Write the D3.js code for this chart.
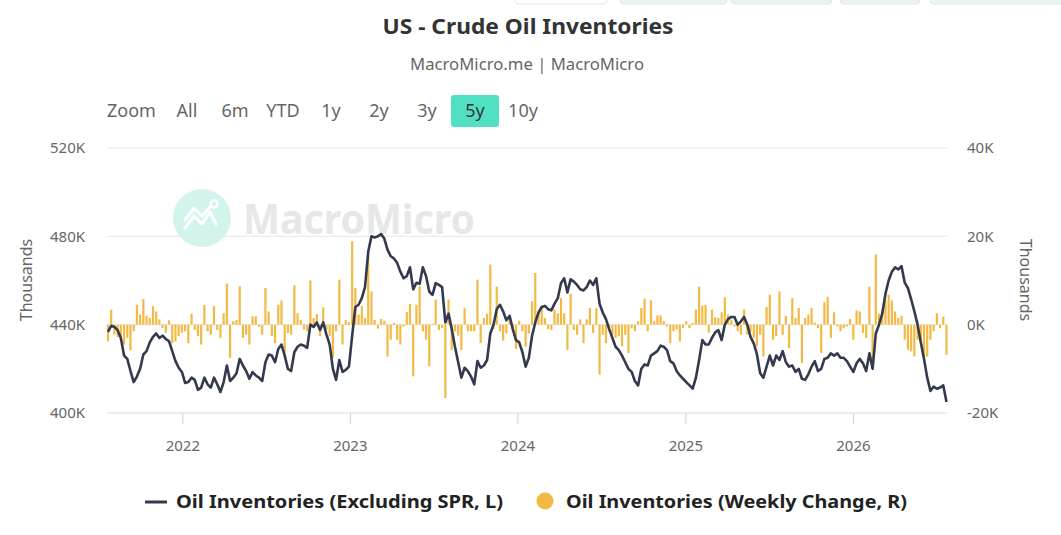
<!DOCTYPE html>
<html>

<head>
    <meta charset="utf-8">
    <title>US - Crude Oil Inventories</title>
    <style>
        body { margin: 0; background: #fff; }
        svg { display: block; font-family: "Noto Sans", "Open Sans", sans-serif; }
    </style>
</head>

<body>

<main></main>

<script src="https://cdn.jsdelivr.net/npm/d3@7/dist/d3.min.js"></script>
<script>
    // weekly series, first week below
    var firstWeek = "2021-07-23";

    // Oil Inventories (Excluding SPR), thousand barrels / 1000 -> K
    var inventories = [
        436.7, 439.5, 439, 437.5, 434, 426, 424.5, 419, 414, 416.5,
        420, 426.5, 428, 432, 434.5, 436, 434, 435, 433.5, 432.5,
        428, 423.5, 420.5, 418.6, 413.6, 414, 416, 415, 410.5, 411.5,
        416, 413, 411.5, 416, 413, 409.5, 414, 421.5, 414.5, 416,
        418, 424.5, 421.5, 419, 415.5, 418.5, 417, 416, 414.5, 423,
        426.5, 426, 423, 429, 431, 426, 420, 419, 427.5, 430,
        431, 430.5, 429.5, 440, 439, 441, 437.6, 441, 435.5, 431,
        420, 415, 424, 418.6, 419.5, 421, 435, 448, 449, 452,
        457, 473, 480, 479.5, 480, 481, 479, 474, 471, 470,
        468, 464, 461, 462, 466, 456, 459, 458.5, 466, 462,
        455, 453.5, 458.8, 458, 457, 441, 445, 438, 430, 423,
        416, 420.5, 419, 416.5, 413, 423.5, 420.5, 421.5, 424, 436,
        440, 447, 449, 446, 442, 444, 438, 433, 432, 427.5,
        421, 425, 435, 441, 445.5, 448, 448.5, 447, 446.5, 449.5,
        452, 458.8, 461, 454.6, 460.5, 459.5, 458, 456, 455.5, 457,
        460, 458, 461, 449.5, 445.5, 442.5, 438, 434, 430, 428.5,
        426, 423, 420, 418.6, 414.5, 412.5, 420, 422, 421.5, 426,
        427, 428, 430.5, 430, 428.5, 423.5, 422.5, 419, 417, 415.5,
        414, 412.5, 411, 416, 424, 433, 431, 431, 434, 436.5,
        437.5, 433, 440, 442.5, 443.5, 443.5, 440, 441.5, 443.5, 440,
        434.5, 431.5, 426.5, 418, 416, 421, 426, 421.5, 426, 424,
        428, 423, 421, 421.5, 418.6, 420, 415.5, 415, 417.5, 421,
        423.5, 419, 420, 424.5, 425, 427, 426, 427, 425, 425,
        423.5, 421, 418.6, 422.5, 424.5, 422.5, 419, 427, 420, 436,
        440, 445, 454, 460, 464, 466, 465, 466.5, 459, 456.5,
        451.5, 446, 440, 432, 424.5, 416, 410, 412, 411, 411.5,
        412.5, 405
    ];

    // Oil Inventories (Weekly Change), K
    var weeklyChange = [
        -3.8, 3.4, -2.2, -2.8, -3.5, -4.5, -3.0, -5.8, -1.5, 4.5,
        2.3, 5.8, 2.0, 1.5, 4.2, 3.0, 1.2, -0.8, -1.8, 1.0,
        -4.2, -3.8, -2.6, -1.8, -1.5, -4.2, 2.5, -1.2, -2.6, -4.5,
        4.5, -1.5, -2.3, 4.2, -1.2, -3.0, 2.6, 9.3, -7.5, 0.8,
        1.1, 8.7, -3.0, -2.3, -4.5, 1.9, 1.9, -0.5, -2.3, 8.3,
        3.0, -2.6, -4.2, 4.5, 5.5, -6.4, -1.9, -2.3, 8.9, 2.6,
        1.1, -1.1, -1.5, 10.0, 1.5, 2.4, -2.6, 3.9, -1.1, -2.6,
        -7.5, -1.5, 10.2, -4.5, 1.1, 0.6, 18.9, 8.3, 2.3, 4.2,
        1.5, 15.9, 7.5, 1.1, -0.9, 1.3, 0.9, -7.2, -3.4, 0.4,
        -3.4, -4.5, -0.4, 2.9, 4.7, -11.7, 4.5, 8.7, -1.5, -3.4,
        -9.4, 0.2, 5.7, -1.2, -0.8, -16.6, 5.7, -5.7, -1.5, -2.5,
        -5.7, 3.8, -1.5, -1.5, -1.5, 10.2, -4.2, 1.5, 2.5, 13.6,
        -1.0, 8.6, -1.5, -3.6, -2.0, 1.5, -1.0, -5.5, 0.9, -1.5,
        -5.0, -2.0, 5.3, 11.7, 2.6, 3.8, 1.5, -1.0, -1.2, 3.4,
        2.6, 6.0, 2.6, -5.7, 7.0, -1.2, -2.3, 1.2, -4.2, 1.2,
        3.8, -1.9, 3.8, -11.3, -2.3, -4.2, -1.5, -2.3, -3.0, -2.6,
        -4.9, -2.3, -6.4, -0.8, -1.5, 0.8, 3.8, 5.9, -1.5, 5.5,
        0.8, 2.1, 2.1, 0.8, -0.4, -4.2, -1.5, -1.1, -3.8, -0.8,
        0.8, -0.8, 0.4, 3.4, 8.6, 4.3, 4.5, -1.8, 3.4, 1.7,
        1.5, 2.8, 6.2, 2.3, 1.1, -0.4, -1.5, -2.3, 3.4, -2.3,
        -1.5, -3.0, -4.9, -2.3, -7.2, 4.0, 6.8, -3.4, -2.6, 7.5,
        -2.3, 2.0, -5.3, 6.0, 1.5, 3.8, -8.7, 1.5, 2.3, 3.8,
        0.5, -0.8, -6.4, 5.1, 6.3, -3.0, 2.8, -0.4, -1.5, -0.8,
        -0.4, 1.3, -3.4, 3.2, 3.0, -1.9, -3.0, 8.6, -8.3, 15.9,
        2.5, 3.5, 5.5, 6.8, 5.5, 3.0, 1.5, 2.0, -3.4, -5.7,
        -6.0, -7.2, -3.4, -3.4, -7.5, -7.2, -3.4, -1.5, 2.6, -0.8,
        1.8, -6.8
    ];

    var leftTicks = [400, 440, 480, 520];
    var rightTicks = [-20, 0, 20, 40];
    var yearTicks = [2022, 2023, 2024, 2025, 2026];
    var rangeButtons = ["All", "6m", "YTD", "1y", "2y", "3y", "5y", "10y"];
    var activeButton = "5y";
    var seriesNames = ["Oil Inventories (Excluding SPR, L)", "Oil Inventories (Weekly Change, R)"];

    var width = 1061,
        height = 535;
    var lineColor = "#343a4e",
        barColor = "#f2ba44";

    var svg = d3.select("main").append("svg")
        .attr("width", width).attr("height", height);

    var start = d3.timeParse("%Y-%m-%d")(firstWeek);
    var dates = inventories.map(function (d, i) { return d3.timeWeek.offset(start, i); });

    var plotLeft = 107, plotRight = 947, plotTop = 148, plotBottom = 413;

    var x = d3.scaleTime()
        .domain([dates[0], dates[dates.length - 1]])
        .range([108, 946.5]);
    var yL = d3.scaleLinear().domain([400, 520]).range([plotBottom, plotTop]);
    var yR = d3.scaleLinear().domain([-20, 40]).range([plotBottom, plotTop]);

    // faint tabs cut off at the top of the page
    var tabs = [[515, 92, "#fff"], [620, 107, "#e9f5f2"], [731, 101, "#e9f5f2"], [840, 80, "#e9f5f2"], [930, 140, "#e9f5f2"]];
    svg.selectAll(".tab").data(tabs).enter().append("rect")
        .attr("x", function (d) { return d[0]; }).attr("y", -10)
        .attr("width", function (d) { return d[1]; }).attr("height", 14)
        .attr("rx", 4)
        .attr("fill", function (d) { return d[2]; })
        .attr("stroke", "#e3e3e3");

    // title
    svg.append("text")
        .attr("x", 528).attr("y", 34)
        .attr("text-anchor", "middle")
        .attr("font-size", 21).attr("font-weight", "bold")
        .attr("fill", "#333")
        .attr("textLength", 291).attr("lengthAdjust", "spacingAndGlyphs")
        .text("US - Crude Oil Inventories");

    svg.append("text")
        .attr("x", 527).attr("y", 70)
        .attr("text-anchor", "middle")
        .attr("font-size", 16)
        .attr("fill", "#666")
        .attr("textLength", 234).attr("lengthAdjust", "spacingAndGlyphs")
        .text("MacroMicro.me | MacroMicro");

    // range selector
    svg.append("text")
        .attr("x", 107).attr("y", 117)
        .attr("font-size", 18).attr("fill", "#666")
        .text("Zoom");

    var btn = svg.selectAll(".btn").data(rangeButtons).enter().append("g")
        .attr("transform", function (d, i) { return "translate(" + (187 + i * 48) + ",0)"; });
    btn.filter(function (d) { return d === activeButton; }).append("rect")
        .attr("x", -24).attr("y", 95)
        .attr("width", 48).attr("height", 32)
        .attr("rx", 3)
        .attr("fill", "#51e1c2");
    btn.append("text")
        .attr("y", 117)
        .attr("text-anchor", "middle")
        .attr("font-size", 18)
        .attr("fill", function (d) { return d === activeButton ? "#333" : "#666"; })
        .text(function (d) { return d; });

    // watermark
    var wm = svg.append("g").attr("transform", "translate(202,218)");
    wm.append("circle").attr("r", 29).attr("fill", "#d2f4ec");
    wm.append("polyline")
        .attr("points", "-17,10 -8,-2 0,6 8,-6 14,6")
        .attr("fill", "none").attr("stroke", "#fff").attr("stroke-width", 3)
        .attr("stroke-linejoin", "round").attr("stroke-linecap", "round");
    wm.append("polyline")
        .attr("points", "-17,2 -8,-10 0,-2 9,-12")
        .attr("fill", "none").attr("stroke", "#fff").attr("stroke-width", 3)
        .attr("stroke-linejoin", "round").attr("stroke-linecap", "round");
    wm.append("circle").attr("cx", 12).attr("cy", -14).attr("r", 3.5)
        .attr("fill", "none").attr("stroke", "#fff").attr("stroke-width", 2.5);
    svg.append("text")
        .attr("x", 243).attr("y", 234)
        .attr("font-size", 42).attr("font-weight", "bold")
        .attr("fill", "#e6e7e8")
        .attr("textLength", 232).attr("lengthAdjust", "spacingAndGlyphs")
        .text("MacroMicro");

    // gridlines
    svg.selectAll(".grid").data(leftTicks.slice(1)).enter().append("line")
        .attr("x1", plotLeft).attr("x2", plotRight)
        .attr("y1", function (d) { return yL(d); }).attr("y2", function (d) { return yL(d); })
        .attr("stroke", "#e6e6e6");

    // axes
    var fmtK = function (d) { return d + "K"; };
    var gL = svg.append("g").attr("transform", "translate(" + plotLeft + ",0)")
        .call(d3.axisLeft(yL).tickValues(leftTicks).tickFormat(fmtK).tickSize(0).tickPadding(22));
    var gR = svg.append("g").attr("transform", "translate(" + plotRight + ",0)")
        .call(d3.axisRight(yR).tickValues(rightTicks).tickFormat(fmtK).tickSize(0).tickPadding(20));
    var yearDates = yearTicks.map(function (y) { return new Date(y, 0, 1); });
    var gX = svg.append("g").attr("transform", "translate(0," + plotBottom + ")")
        .call(d3.axisBottom(x).tickValues(yearDates).tickFormat(d3.timeFormat("%Y")).tickSize(11).tickPadding(16));

    [gL, gR, gX].forEach(function (g) {
        g.select(".domain").remove();
        g.selectAll("text")
            .attr("font-family", "\"Noto Sans\", \"Open Sans\", sans-serif")
            .attr("font-size", 15).attr("fill", "#666");
    });
    gX.selectAll(".tick line").attr("stroke", "#ccd0d6");
    gX.append("line")
        .attr("x1", plotLeft).attr("x2", plotRight)
        .attr("stroke", "#d5d8de");

    // axis titles
    svg.append("text")
        .attr("transform", "translate(32,280) rotate(-90)")
        .attr("text-anchor", "middle")
        .attr("font-size", 16).attr("fill", "#666")
        .text("Thousands");
    svg.append("text")
        .attr("transform", "translate(1020,280) rotate(90)")
        .attr("text-anchor", "middle")
        .attr("font-size", 16).attr("fill", "#666")
        .text("Thousands");

    // weekly change bars
    svg.selectAll(".bar").data(weeklyChange).enter().append("rect")
        .attr("x", function (d, i) { return x(dates[i]) - 1.1; })
        .attr("width", 2.2)
        .attr("y", function (d) { return yR(Math.max(0, d)); })
        .attr("height", function (d) { return Math.abs(yR(d) - yR(0)); })
        .attr("fill", barColor);

    // inventories line
    var line = d3.line()
        .x(function (d, i) { return x(dates[i]); })
        .y(function (d) { return yL(d); });
    svg.append("path")
        .datum(inventories)
        .attr("d", line)
        .attr("fill", "none")
        .attr("stroke", lineColor)
        .attr("stroke-width", 2.6)
        .attr("stroke-linejoin", "round");

    // legend
    var lg = svg.append("g");
    lg.append("line")
        .attr("x1", 145).attr("x2", 167).attr("y1", 502).attr("y2", 502)
        .attr("stroke", lineColor).attr("stroke-width", 3);
    lg.append("text")
        .attr("x", 176).attr("y", 508)
        .attr("font-size", 18).attr("font-weight", "bold").attr("fill", "#222")
        .attr("textLength", 327).attr("lengthAdjust", "spacingAndGlyphs")
        .text(seriesNames[0]);
    lg.append("circle")
        .attr("cx", 545).attr("cy", 501).attr("r", 8.5)
        .attr("fill", barColor);
    lg.append("text")
        .attr("x", 566).attr("y", 508)
        .attr("font-size", 18).attr("font-weight", "bold").attr("fill", "#222")
        .attr("textLength", 341).attr("lengthAdjust", "spacingAndGlyphs")
        .text(seriesNames[1]);
</script>
</body>

</html>
